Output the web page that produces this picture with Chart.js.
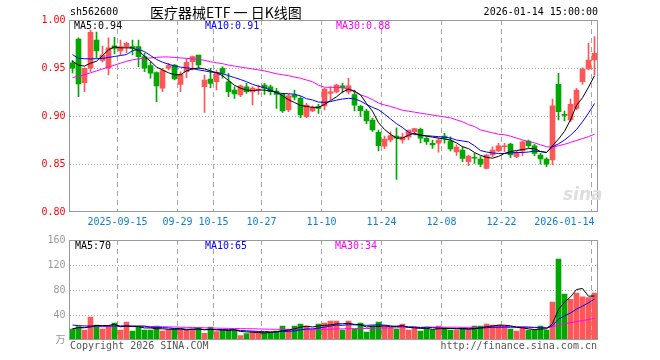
<!DOCTYPE html>
<html><head><meta charset="utf-8">
<script src="https://cdn.jsdelivr.net/npm/chart.js@4.4.1/dist/chart.umd.min.js"></script>
<style>
html,body{margin:0;padding:0;background:#fff;}
#wrap{position:relative;width:660px;height:360px;overflow:hidden;}
canvas{position:absolute;left:0;}
.t{position:absolute;white-space:pre;font-size:10px;line-height:12px;font-family:"DejaVu Sans Mono","Noto Sans CJK SC",monospace;color:#000;}
</style></head><body>
<div id="wrap">
<canvas id="pc" width="660" height="232" style="top:0px"></canvas>
<canvas id="vc" width="660" height="130" style="top:230px"></canvas>
<div class="t" style="left:70px;top:6px;">sh562600</div>
<div class="t" style="left:150px;top:3px;font-family:'Noto Sans CJK SC',sans-serif;font-size:14px;line-height:18px;">医疗器械ETF 一 日K线图</div>
<div class="t" style="right:62px;top:6px;">2026-01-14 15:00:00</div>
<div class="t" style="left:74px;top:20px;color:#000;">MA5:0.94</div>
<div class="t" style="left:205px;top:20px;color:#0000ff;">MA10:0.91</div>
<div class="t" style="left:336px;top:20px;color:#ff00ff;">MA30:0.88</div>
<div class="t" style="left:75px;top:240px;color:#000;">MA5:70</div>
<div class="t" style="left:205px;top:240px;color:#0000ff;">MA10:65</div>
<div class="t" style="left:335px;top:240px;color:#ff00ff;">MA30:34</div>
<div class="t" style="left:70px;top:340px;color:#555;">Copyright 2026 SINA.COM</div>
<div class="t" style="right:63px;top:340px;color:#555;">http://finance.sina.com.cn</div>
<div class="t" style="left:563px;top:184px;font-family:'DejaVu Sans',sans-serif;font-style:italic;font-weight:bold;font-size:17px;line-height:20px;color:#dedede;">sina</div>
</div>
<script>
const dates = ["2025-09-03","2025-09-04","2025-09-05","2025-09-08","2025-09-09","2025-09-10","2025-09-11","2025-09-12","2025-09-15","2025-09-16",
"2025-09-17","2025-09-18","2025-09-19","2025-09-22","2025-09-23","2025-09-24","2025-09-25","2025-09-26","2025-09-29","2025-09-30",
"2025-10-09","2025-10-10","2025-10-13","2025-10-14","2025-10-15","2025-10-16","2025-10-17","2025-10-20","2025-10-21","2025-10-22",
"2025-10-23","2025-10-24","2025-10-27","2025-10-28","2025-10-29","2025-10-30","2025-10-31","2025-11-03","2025-11-04","2025-11-05",
"2025-11-06","2025-11-07","2025-11-10","2025-11-11","2025-11-12","2025-11-13","2025-11-14","2025-11-17","2025-11-18","2025-11-19",
"2025-11-20","2025-11-21","2025-11-24","2025-11-25","2025-11-26","2025-11-27","2025-11-28","2025-12-01","2025-12-02","2025-12-03",
"2025-12-04","2025-12-05","2025-12-08","2025-12-09","2025-12-10","2025-12-11","2025-12-12","2025-12-15","2025-12-16","2025-12-17",
"2025-12-18","2025-12-19","2025-12-22","2025-12-23","2025-12-24","2025-12-25","2025-12-26","2025-12-29","2025-12-30","2025-12-31",
"2026-01-05","2026-01-06","2026-01-07","2026-01-08","2026-01-09","2026-01-12","2026-01-13","2026-01-14"];

const openP = [0.9555,0.9802,0.9347,0.9497,0.9792,0.958,0.9497,0.9732,0.9677,0.9722,
0.9722,0.9722,0.9618,0.9524,0.9451,0.929,0.9497,0.9531,0.933,0.9461,
0.9566,0.9635,0.9305,0.9385,0.9357,0.9497,0.9357,0.9271,0.9219,0.9305,
0.925,0.9271,0.9323,0.9305,0.926,0.9226,0.9063,0.9219,0.9184,0.8993,
0.9052,0.9097,0.9104,0.9236,0.925,0.9313,0.925,0.9222,0.910,0.905,
0.8958,0.883,0.8686,0.875,0.8792,0.875,0.878,0.8835,0.886,0.8768,
0.8716,0.8716,0.8792,0.874,0.8625,0.8646,0.8524,0.8566,0.8552,0.8455,
0.8594,0.8635,0.868,0.8708,0.8576,0.8635,0.874,0.869,0.8594,0.8552,
0.8542,0.933,0.9014,0.8958,0.908,0.9357,0.949,0.9583];

const highP = [0.958,0.9813,0.9503,0.9896,0.9875,0.9729,0.9813,0.982,0.9792,0.977,
0.9792,0.9792,0.9656,0.9566,0.9461,0.9497,0.9549,0.9539,0.9461,0.96,
0.9625,0.9635,0.9427,0.9497,0.9479,0.9514,0.9445,0.9305,0.9323,0.934,
0.9305,0.9323,0.934,0.9323,0.9289,0.9236,0.9226,0.9271,0.9201,0.9132,
0.9107,0.9122,0.9289,0.9305,0.9333,0.9344,0.9396,0.9271,0.911,0.907,
0.8979,0.8854,0.879,0.8836,0.8878,0.882,0.8854,0.8872,0.8875,0.8784,
0.875,0.8771,0.882,0.8784,0.870,0.868,0.8594,0.8611,0.8576,0.8601,
0.868,0.8716,0.8716,0.8716,0.8635,0.874,0.875,0.8705,0.8611,0.8566,
0.9177,0.9445,0.9052,0.9177,0.9289,0.9503,0.9757,0.9826];

const lowP = [0.945,0.9201,0.9253,0.9461,0.9604,0.9563,0.9427,0.9646,0.9635,0.9656,
0.9635,0.9514,0.9461,0.9393,0.9149,0.9253,0.9479,0.9375,0.9253,0.9399,
0.9479,0.9497,0.9038,0.9295,0.9271,0.9393,0.9201,0.9184,0.9201,0.9236,
0.9115,0.9226,0.9226,0.9219,0.908,0.9038,0.9045,0.9167,0.8982,0.8982,
0.9045,0.9028,0.9063,0.9167,0.924,0.924,0.923,0.9052,0.8995,0.892,
0.884,0.8635,0.866,0.873,0.834,0.8716,0.875,0.8802,0.872,0.8705,
0.8663,0.8622,0.8716,0.8635,0.859,0.8524,0.8482,0.8507,0.8472,0.8448,
0.8576,0.8628,0.8628,0.8566,0.8566,0.8587,0.867,0.8587,0.8497,0.8472,
0.8493,0.8958,0.8948,0.894,0.9063,0.933,0.9479,0.9427];

const closeP = [0.9497,0.9333,0.9497,0.9872,0.9677,0.9635,0.9711,0.9705,0.9722,0.9757,
0.9705,0.9618,0.9497,0.9445,0.9313,0.9472,0.9524,0.9385,0.9434,0.9559,
0.9618,0.9531,0.9375,0.934,0.9455,0.9445,0.9253,0.9229,0.9313,0.9253,
0.9292,0.9281,0.9289,0.9253,0.9226,0.9052,0.9211,0.9195,0.901,0.9115,
0.9086,0.908,0.9281,0.9253,0.9323,0.9292,0.9313,0.9112,0.9055,0.895,
0.8854,0.8691,0.876,0.8795,0.8768,0.8784,0.8853,0.887,0.877,0.8732,
0.8698,0.875,0.8768,0.8656,0.8677,0.8559,0.8583,0.856,0.8497,0.8594,
0.8646,0.869,0.869,0.8594,0.8622,0.8732,0.869,0.8611,0.8552,0.8497,
0.9107,0.9045,0.9007,0.9122,0.9271,0.949,0.9583,0.9653];

const ma5 = [0.957,0.953,0.952,0.955,0.957,0.963,0.969,0.972,0.971,0.971,
0.971,0.968,0.962,0.957,0.951,0.948,0.945,0.943,0.943,0.947,
0.949,0.950,0.949,0.947,0.945,0.942,0.937,0.932,0.929,0.927,
0.9265,0.927,0.927,0.926,0.925,0.921,0.917,0.914,0.911,0.910,
0.909,0.909,0.912,0.916,0.920,0.925,0.928,0.926,0.922,0.913,
0.905,0.893,0.886,0.881,0.877,0.877,0.880,0.882,0.880,0.879,
0.878,0.877,0.876,0.875,0.872,0.868,0.866,0.862,0.859,0.857,
0.856,0.858,0.861,0.863,0.864,0.865,0.866,0.866,0.863,0.862,
0.869,0.876,0.884,0.896,0.911,0.919,0.930,0.942];

const ma10 = [0.964,0.960,0.9597,0.9594,0.9597,0.960,0.961,0.962,0.963,0.964,
0.968,0.9695,0.967,0.963,0.959,0.956,0.954,0.952,0.951,0.950,
0.9495,0.948,0.947,0.9458,0.9453,0.944,0.942,0.940,0.938,0.9357,
0.933,0.931,0.9295,0.927,0.924,0.9235,0.9232,0.9226,0.921,0.918,
0.9167,0.9145,0.9143,0.915,0.9165,0.9177,0.9184,0.918,0.9155,0.912,
0.909,0.9065,0.902,0.897,0.892,0.888,0.883,0.881,0.880,0.8795,
0.879,0.8785,0.878,0.877,0.875,0.874,0.873,0.869,0.864,0.8625,
0.8615,0.861,0.861,0.8615,0.862,0.862,0.8625,0.8635,0.863,0.862,
0.868,0.871,0.875,0.880,0.886,0.894,0.903,0.913];

const ma30 = [0.940,0.9415,0.943,0.945,0.947,0.949,0.951,0.953,0.955,0.957,
0.9585,0.9595,0.960,0.9605,0.961,0.9615,0.9615,0.961,0.9605,0.960,
0.9595,0.959,0.958,0.9565,0.9555,0.9545,0.953,0.952,0.951,0.950,
0.949,0.948,0.947,0.9455,0.944,0.943,0.942,0.9405,0.9393,0.9375,
0.9357,0.932,0.930,0.9299,0.9298,0.9296,0.928,0.925,0.922,0.920,
0.917,0.9135,0.9115,0.910,0.908,0.906,0.905,0.904,0.903,0.902,
0.901,0.900,0.899,0.898,0.896,0.894,0.891,0.889,0.8855,0.884,
0.8825,0.881,0.8805,0.879,0.877,0.875,0.8735,0.872,0.870,0.868,
0.8675,0.869,0.8705,0.8725,0.8745,0.8765,0.8785,0.881];

const volume = [17.6,21.3,16,36.8,24,17.6,21.3,27.2,16,28.8,
14.4,21.3,16,16,22.4,14.4,16,17.6,17.6,16,
17.6,19.7,10.7,20.8,13.3,16,16,16,6.9,10.1,
13.3,13.3,12.3,12.3,14.4,22.4,17.6,22.4,25.6,22.4,
16,25.6,27.2,30.4,30.4,16,30.4,17.6,27.2,12.8,
22.4,28.8,22.4,19.7,17.6,25.6,16,18.7,14.4,19.2,
16,22.4,19.2,16,16,19.2,17.6,22.4,22.4,25.6,
24,24,22.4,17.6,14.4,19.2,16,16,22.4,16,
60.8,129.6,73.6,65,75,69,68,75];

const vma5 = [18,19.7,19.7,21,23.1,23.1,23.1,25.4,21.2,22.2,
21.5,21.5,19.3,19.3,18.0,18.0,17.0,17.3,17.6,16.3,
17.0,17.7,16.3,17.0,16.4,16.1,15.4,16.4,13.6,13.0,
12.5,11.9,11.2,12.3,13.1,14.9,15.8,17.8,20.5,22.1,
20.8,22.4,23.4,24.3,25.9,25.9,26.9,25.0,24.3,20.8,
22.1,21.8,22.7,21.2,22.2,22.8,20.3,19.5,18.5,18.8,
16.9,18.1,18.2,18.6,17.9,18.6,17.6,18.2,19.5,21.4,
22.4,23.7,23.7,22.7,20.5,19.5,17.9,16.6,17.6,17.9,
26.2,49.0,60.5,69.0,80.8,82.4,70.1,70.4];

const vma10 = [24,23,22.5,22.5,22.5,22.5,22.5,22.5,22.5,22.7,
22.3,22.3,22.3,20.3,20.1,19.8,19.3,18.3,18.5,17.2,
17.5,17.3,16.8,17.3,16.4,16.5,16.5,16.4,15.3,14.7,
14.3,13.6,13.8,13.0,13.1,13.7,13.9,14.5,16.4,17.6,
17.9,19.1,20.6,22.4,24.0,23.4,24.6,24.2,24.3,23.4,
24.0,24.3,23.8,22.8,21.5,22.5,21.0,21.1,19.8,20.5,
19.8,19.2,18.9,18.5,18.4,17.7,17.9,18.2,19.0,19.7,
20.5,20.6,21.0,21.1,21.0,21.0,20.8,20.2,20.2,19.2,
22.9,33.4,38.6,43.3,49.4,54.3,59.5,65.4];

const vma30 = [18,19,20,21,21.3,21.3,21.5,21.5,21.8,22,
22,22,21.8,21.6,21.5,21.3,21,20.8,20.5,20.3,
20,19.8,19.5,19.3,19,18.8,18.6,18.4,18.2,18.1,
18.0,17.7,17.5,17.3,17.1,17,16.8,16.7,16.6,16.5,
16.5,16.8,17.1,17.4,17.7,17.8,18.1,18.2,18.4,18.4,
18.7,19,19.2,19.4,19.6,19.8,20,20.1,20.3,20.5,
20.6,20.6,20.6,20.5,20.4,20.3,20.2,20.2,20.1,20.1,
20.1,20.1,20.0,19.9,19.8,19.8,19.8,19.8,19.8,19.8,
21.1,24.4,26.1,27.6,29.6,31.0,32.7,34.6];

const tickDates = ["2025-09-15","2025-09-29","2025-10-15","2025-10-27","2025-11-10","2025-11-24","2025-12-08","2025-12-22","2026-01-14"];
const tickTexts = ["2025-09-15","09-29","10-15","10-27","11-10","11-24","12-08","12-22","2026-01-14         "];
const priceTicks = [0.80, 0.85, 0.90, 0.95, 1.00];
const volTicks = [0, 40, 80, 120, 160];

const RED = '#ff5757', GREEN = '#00a800';
const FONT = '"DejaVu Sans Mono","Noto Sans CJK SC",monospace';
Chart.defaults.font.family = FONT;
Chart.defaults.font.size = 10;

const candleColors = dates.map((d, i) => closeP[i] >= openP[i] ? RED : GREEN);
const gridIdx = tickDates.map(d => dates.indexOf(d));
const vGridColor = (ctx) => gridIdx.includes(ctx.index) ? '#a8a8a8' : 'rgba(0,0,0,0)';

const boxPlugin = {
  id: 'box',
  afterDraw(chart) {
    const {ctx, chartArea: a} = chart;
    ctx.save();
    ctx.strokeStyle = '#999';
    ctx.lineWidth = 1;
    const l = Math.floor(a.left) + 0.5, t = Math.floor(a.top) + 0.5;
    const r = Math.floor(a.right) + 0.5, b = Math.floor(a.bottom) - 0.5;
    ctx.strokeRect(l, t, r - l, b - t);
    ctx.restore();
  }
};

function lineDs(data, color) {
  return {type: 'line', data, borderColor: color, borderWidth: 1, pointRadius: 0, tension: 0, fill: false, order: 0};
}

const xCommon = (showTicks) => ({
  type: 'category',
  offset: true,
  grid: {offset: true, color: vGridColor, lineWidth: 1, drawTicks: false},
  border: {display: false, dash: [5, 4]},
  ticks: {
    display: showTicks, autoSkip: false, maxRotation: 0, minRotation: 0, padding: 4,
    labelOffset: -3, color: '#0a7fd4', font: {family: FONT, size: 10},
    callback: (v, i) => { const k = gridIdx.indexOf(i); return k >= 0 ? tickTexts[k] : ''; }
  },
  afterFit: (s) => { s.height = 20; }
});

new Chart(document.getElementById('pc'), {
  type: 'bar',
  data: {
    labels: dates,
    datasets: [
      lineDs(ma5, '#000000'),
      lineDs(ma10, '#0000ff'),
      lineDs(ma30, '#ff00ff'),
      {label: 'body', data: openP.map((o, i) => [o, closeP[i]]), backgroundColor: candleColors,
       barThickness: 5, minBarLength: 1, grouped: false, borderWidth: 0, order: 1},
      {label: 'wick', data: lowP.map((l, i) => [l, highP[i]]), backgroundColor: candleColors,
       barThickness: 1, grouped: false, borderWidth: 0, order: 2}
    ]
  },
  options: {
    responsive: false, animation: false, devicePixelRatio: 1,
    layout: {padding: {left: 0, right: 62.5, top: 20, bottom: 0}},
    plugins: {legend: {display: false}, tooltip: {enabled: false}},
    scales: {
      x: xCommon(true),
      y: {
        min: 0.8, max: 1.0,
        afterBuildTicks: (s) => { s.ticks = priceTicks.map(v => ({value: v})); },
        ticks: {color: '#ff0000', padding: 4, font: {family: FONT, size: 10}, callback: (v) => Number(v).toFixed(2)},
        grid: {color: (ctx) => (ctx.tick && ctx.tick.value > 0.81 && ctx.tick.value < 0.99) ? '#aaaaaa' : 'rgba(0,0,0,0)', drawTicks: false},
        border: {display: false, dash: [1, 2]},
        afterFit: (s) => { s.width = 69.5; }
      }
    }
  },
  plugins: [boxPlugin]
});

new Chart(document.getElementById('vc'), {
  type: 'bar',
  data: {
    labels: dates,
    datasets: [
      lineDs(vma5, '#000000'),
      lineDs(vma10, '#0000ff'),
      lineDs(vma30, '#ff00ff'),
      {label: 'vol', data: volume, backgroundColor: candleColors, barThickness: 5, grouped: false, borderWidth: 0, order: 1}
    ]
  },
  options: {
    responsive: false, animation: false, devicePixelRatio: 1,
    layout: {padding: {left: 0, right: 62.5, top: 10, bottom: 0}},
    plugins: {legend: {display: false}, tooltip: {enabled: false}},
    scales: {
      x: xCommon(false),
      y: {
        min: 0, max: 160,
        afterBuildTicks: (s) => { s.ticks = volTicks.map(v => ({value: v})); },
        ticks: {color: '#999999', padding: 4, font: {family: FONT, size: 10}, callback: (v) => v === 0 ? '万' : String(v)},
        grid: {color: (ctx) => (ctx.tick && ctx.tick.value > 1 && ctx.tick.value < 159) ? '#aaaaaa' : 'rgba(0,0,0,0)', drawTicks: false},
        border: {display: false, dash: [1, 2]},
        afterFit: (s) => { s.width = 69.5; }
      }
    }
  },
  plugins: [boxPlugin]
});
</script>
</body></html>
